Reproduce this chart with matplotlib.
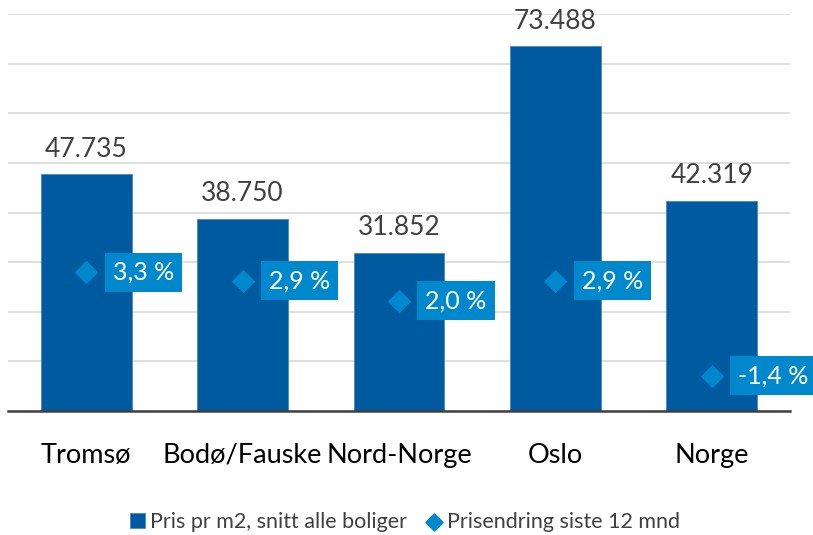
import matplotlib.pyplot as plt
import numpy as np

categories = ['Tromsø', 'Bodø/Fauske', 'Nord-Norge', 'Oslo', 'Norge']
pris_m2 = [47735, 38750, 31852, 73488, 42319]
prisendring = [3.3, 2.9, 2.0, 2.9, -1.4]

bar_color = '#005aa0'
dot_color = '#0088cc'

plt.rcParams['font.family'] = ['Lato', 'DejaVu Sans']

def fmt_thousands(v):
    return f'{v:,}'.replace(',', '.')

def fmt_pct(v):
    return f'{v:.1f} %'.replace('.', ',')

fig = plt.figure(figsize=(8.13, 5.35), dpi=100)
ax = fig.add_axes([8 / 813, 1 - 411 / 535, 782 / 813, 397 / 535])
x = np.arange(len(categories))

ax.bar(x, pris_m2, width=0.58, color=bar_color, edgecolor='#4a86c0', linewidth=0.6,
       zorder=2, label='Pris pr m2, snitt alle boliger')
for xi, v in zip(x, pris_m2):
    ax.annotate(fmt_thousands(v), (xi, v), xytext=(0, 9), textcoords='offset points',
                ha='center', va='bottom', fontsize=19, color='#404040')

ax2 = ax.twinx()
ax2.set_ylim(-3, 15)
ax2.scatter(x, prisendring, marker='D', s=120, color=dot_color, zorder=4,
            label='Prisendring siste 12 mnd')
for xi, v in zip(x, prisendring):
    ax2.annotate(fmt_pct(v), (xi, v), xytext=(19, 0), textcoords='offset points',
                 ha='left', va='center', fontsize=18, color='white',
                 bbox=dict(boxstyle='square,pad=0.32', fc=dot_color, ec='none'))
ax2.axis('off')

ax.set_xlim(-0.5, len(categories) - 0.5)
ax.set_ylim(0, 80000)
ax.set_yticks(np.arange(0, 80001, 10000))
ax.yaxis.grid(True, color='#d9d9d9', linewidth=1.2, zorder=0)
ax.set_axisbelow(True)
ax.tick_params(axis='y', left=False, right=False, labelleft=False, labelright=False)
ax.tick_params(axis='x', length=0, pad=23, labelsize=19.5)
ax.set_xticks(x)
ax.set_xticklabels(categories, color='black')
for s in ['top', 'right', 'left']:
    ax.spines[s].set_visible(False)
ax.spines['bottom'].set_color('#404040')
ax.spines['bottom'].set_linewidth(1.8)
ax.spines['bottom'].set_zorder(3)

h1, l1 = ax.get_legend_handles_labels()
h2, l2 = ax2.get_legend_handles_labels()
fig.legend(h1 + h2, l1 + l2, loc='center', bbox_to_anchor=(405 / 813, 1 - 522 / 535),
           ncol=2, frameon=False, fontsize=15.5, handlelength=0.7, handletextpad=0.25,
           columnspacing=0.9, labelcolor='#404040', markerscale=0.8)

fig.savefig('out.png', dpi=100)
